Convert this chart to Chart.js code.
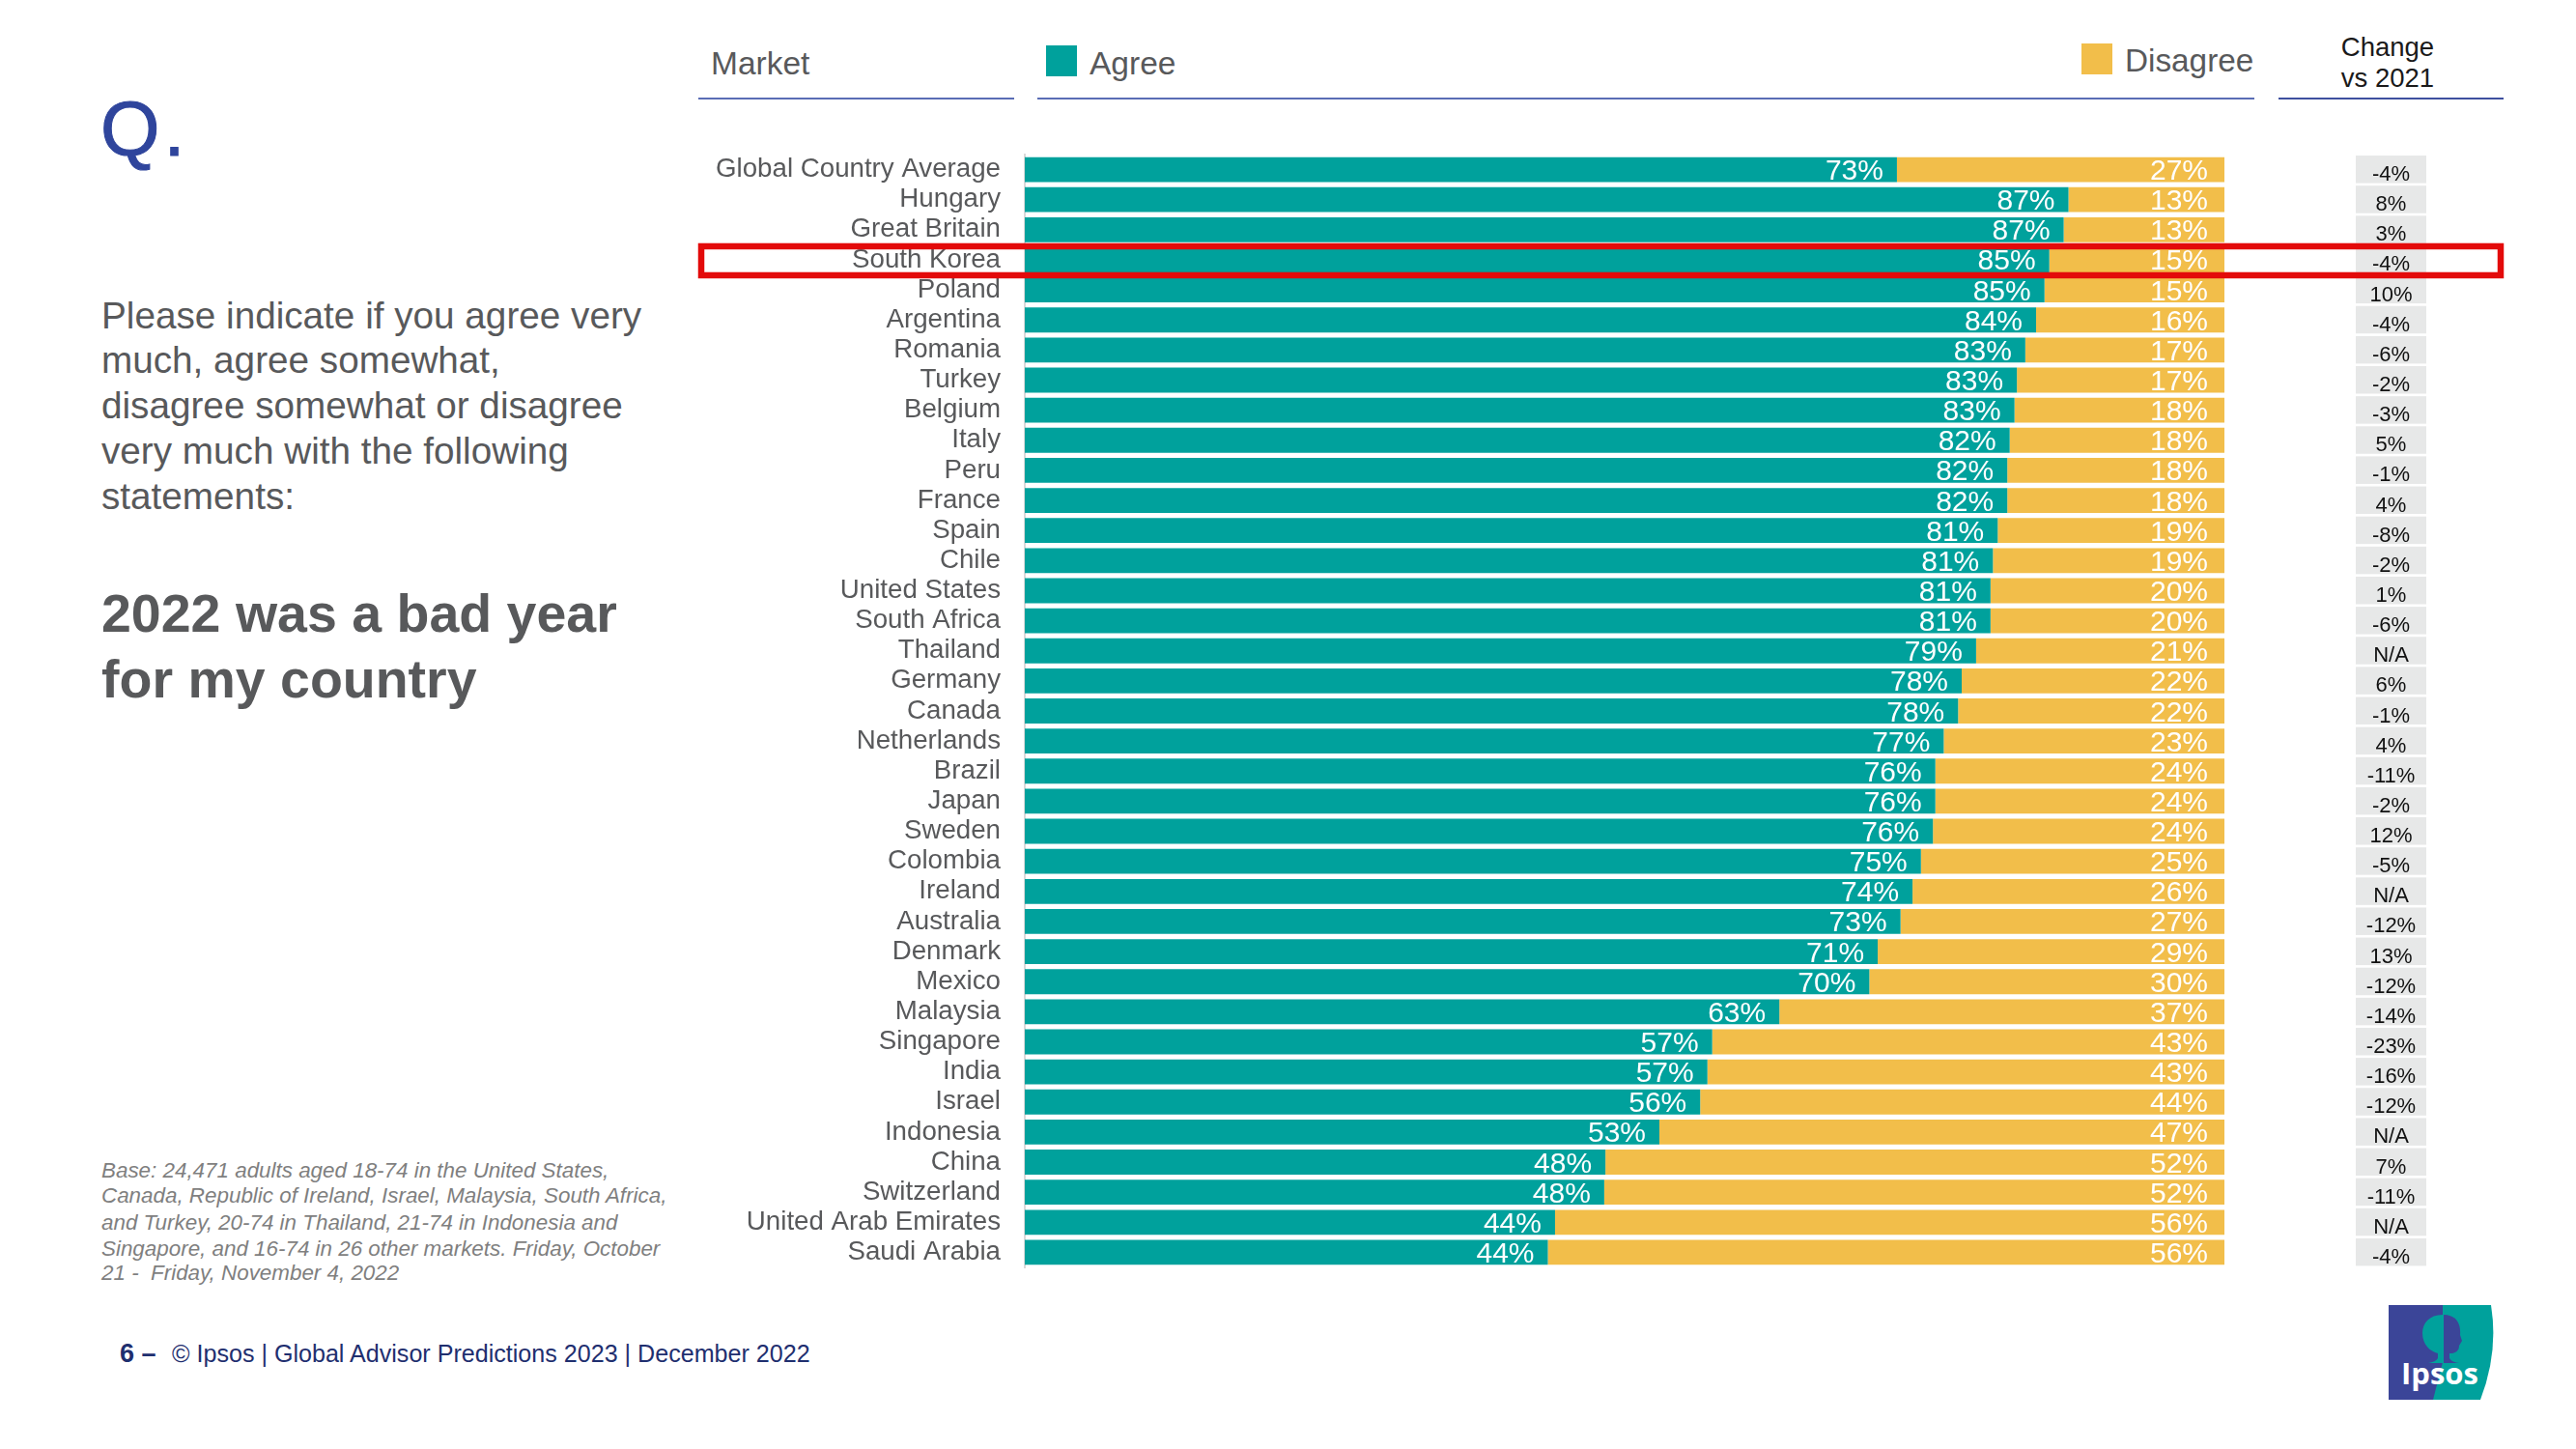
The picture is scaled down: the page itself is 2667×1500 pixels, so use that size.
<!DOCTYPE html>
<html><head><meta charset="utf-8">
<script src="https://cdn.jsdelivr.net/npm/chart.js@4/dist/chart.umd.min.js"></script>
<style>
html,body{margin:0;padding:0;background:#fff;width:2667px;height:1500px;overflow:hidden}
#wrap{position:relative;width:2667px;height:1500px}
svg,canvas{position:absolute;left:0;top:0}
svg text{font-family:"Liberation Sans",Arial,sans-serif}
</style></head><body>
<div id="wrap">
<svg width="2667" height="1500" viewBox="0 0 2667 1500">
  <text x="104" y="161" font-size="79" fill="#2F459C" stroke="#2F459C" stroke-width="1" letter-spacing="4">Q.</text>
  <g font-size="38.7" fill="#58595B">
    <text x="105" y="340">Please indicate if you agree very</text>
    <text x="105" y="386">much, agree somewhat,</text>
    <text x="105" y="433">disagree somewhat or disagree</text>
    <text x="105" y="480">very much with the following</text>
    <text x="105" y="527">statements:</text>
  </g>
  <g font-size="55.5" font-weight="bold" fill="#58595B">
    <text x="105" y="654">2022 was a bad year</text>
    <text x="105" y="722">for my country</text>
  </g>
  <g font-size="22.4" font-style="italic" fill="#7F7F7F">
    <text x="105" y="1219">Base: 24,471 adults aged 18-74 in the United States,</text>
    <text x="105" y="1245">Canada, Republic of Ireland, Israel, Malaysia, South Africa,</text>
    <text x="105" y="1273">and Turkey, 20-74 in Thailand, 21-74 in Indonesia and</text>
    <text x="105" y="1300">Singapore, and 16-74 in 26 other markets. Friday, October</text>
    <text x="105" y="1325" xml:space="preserve">21 -  Friday, November 4, 2022</text>
  </g>
  <text x="124" y="1410" font-size="27" font-weight="bold" fill="#1F2F6F">6 –</text>
  <text x="178" y="1410" font-size="25.1" fill="#1F2F6F">© Ipsos | Global Advisor Predictions 2023 | December 2022</text>
  <text x="736" y="77" font-size="33.5" fill="#58595B">Market</text>
  <text x="1128" y="77" font-size="33.5" fill="#58595B">Agree</text>
  <text x="2200" y="74" font-size="33.3" fill="#58595B">Disagree</text>
  <rect x="1083" y="47" width="32" height="32" fill="#00A19C"/>
  <rect x="2155" y="45" width="32" height="32" fill="#F2BE4A"/>
  <text x="2472" y="58" font-size="27.5" fill="#1a1a1a" text-anchor="middle">Change</text>
  <text x="2472" y="90" font-size="27.5" fill="#1a1a1a" text-anchor="middle">vs 2021</text>
  <g fill="#5A6DB5">
    <rect x="723" y="101" width="327" height="2"/>
    <rect x="1074" y="101" width="1260" height="2"/>
    <rect x="2359" y="101" width="233" height="2" fill="#3E509F"/>
  </g>
  <g>
    <path d="M2473 1351H2579Q2587 1400 2568 1449H2473Z" fill="#00A19C"/>
    <path d="M2473 1351H2529L2529 1410L2519 1449H2473Z" fill="#3B4598"/>
    <path d="M2529 1361C2515 1361 2508 1370 2508 1380C2508 1392 2516 1399 2524 1401V1406Q2522 1410 2514 1411H2529Z" fill="#00A19C"/>
    <path d="M2530 1361C2544 1361 2548 1372 2547 1382L2549 1388L2546 1393C2546 1400 2540 1401 2536 1401V1406Q2538 1410 2546 1411H2530Z" fill="#3B4598"/>
    <text x="2486" y="1433" font-size="31" font-weight="bold" fill="#fff" style="font-family:'Open Sans','Liberation Sans',sans-serif">Ipsos</text>
  </g>
</svg>
<canvas id="c" width="2667" height="1500"></canvas>
</div>
<script>
const categories = ["Global Country Average","Hungary","Great Britain","South Korea","Poland","Argentina","Romania","Turkey","Belgium","Italy","Peru","France","Spain","Chile","United States","South Africa","Thailand","Germany","Canada","Netherlands","Brazil","Japan","Sweden","Colombia","Ireland","Australia","Denmark","Mexico","Malaysia","Singapore","India","Israel","Indonesia","China","Switzerland","United Arab Emirates","Saudi Arabia"];
const agree = [72.7,87.0,86.6,85.4,85.0,84.3,83.4,82.7,82.5,82.1,81.9,81.9,81.1,80.7,80.5,80.5,79.3,78.1,77.8,76.6,75.9,75.9,75.7,74.7,74.0,73.0,71.1,70.4,62.9,57.3,56.9,56.3,52.9,48.4,48.3,44.2,43.6];
const disagree = [27.3,13.0,13.4,14.6,15.0,15.7,16.6,17.3,17.5,17.9,18.1,18.1,18.9,19.3,19.5,19.5,20.7,21.9,22.2,23.4,24.1,24.1,24.3,25.3,26.0,27.0,28.9,29.6,37.1,42.7,43.1,43.7,47.1,51.6,51.7,55.8,56.4];
const change = ["-4%","8%","3%","-4%","10%","-4%","-6%","-2%","-3%","5%","-1%","4%","-8%","-2%","1%","-6%","N/A","6%","-1%","4%","-11%","-2%","12%","-5%","N/A","-12%","13%","-12%","-14%","-23%","-16%","-12%","N/A","7%","-11%","N/A","-4%"];
const highlighted = "South Korea";
const FONT = '"Liberation Sans", Arial, sans-serif';

const overlay = {
  id:'overlay',
  afterDatasetsDraw(chart){
    const {ctx, scales:{y}} = chart;
    ctx.save();
    ctx.font = '30px '+FONT;
    ctx.fillStyle = '#fff';
    ctx.textAlign = 'right';
    ctx.textBaseline = 'alphabetic';
    chart.data.datasets.forEach((ds,di)=>{
      const inset = di===0 ? 14 : 17;
      chart.getDatasetMeta(di).data.forEach((bar,i)=>{
        ctx.fillText(Math.round(ds.data[i])+'%', bar.x-inset, bar.y+10.5);
      });
    });
    categories.forEach((c,i)=>{
      const cy = y.getPixelForValue(i);
      ctx.fillStyle = '#E7E8E8';
      ctx.fillRect(2439, cy-14.5, 73, 28.5);
    });
    ctx.font = '22px '+FONT;
    ctx.textAlign = 'center';
    ctx.fillStyle = '#111';
    change.forEach((t,i)=>{
      ctx.fillText(t, 2475.5, y.getPixelForValue(i)+11.5);
    });
    const hy = y.getPixelForValue(categories.indexOf(highlighted));
    ctx.strokeStyle = '#E30A0A';
    ctx.lineWidth = 6.5;
    ctx.strokeRect(726, hy-14, 1863, 30);
    ctx.restore();
  }
};

new Chart(document.getElementById('c'),{
  type:'bar',
  data:{labels:categories,datasets:[
    {label:'Agree',data:agree,backgroundColor:'#00A19C',borderWidth:0,barPercentage:0.83,categoryPercentage:1},
    {label:'Disagree',data:disagree,backgroundColor:'#F2BE4A',borderWidth:0,barPercentage:0.83,categoryPercentage:1}
  ]},
  options:{
    indexAxis:'y',responsive:false,devicePixelRatio:1,animation:false,
    layout:{padding:{left:0,right:364,top:160,bottom:188}},
    plugins:{legend:{display:false},tooltip:{enabled:false},title:{display:false}},
    scales:{
      x:{stacked:true,display:false,min:0,max:100},
      y:{stacked:true,
         afterFit(s){s.width=1061;},
         grid:{display:false,drawTicks:false},
         border:{display:true,color:'#D9D9D9',width:2},
         ticks:{autoSkip:false,padding:25,color:'#58595B',font:{family:FONT,size:27.7}}
      }
    }
  },
  plugins:[overlay]
});
</script>
</body></html>
